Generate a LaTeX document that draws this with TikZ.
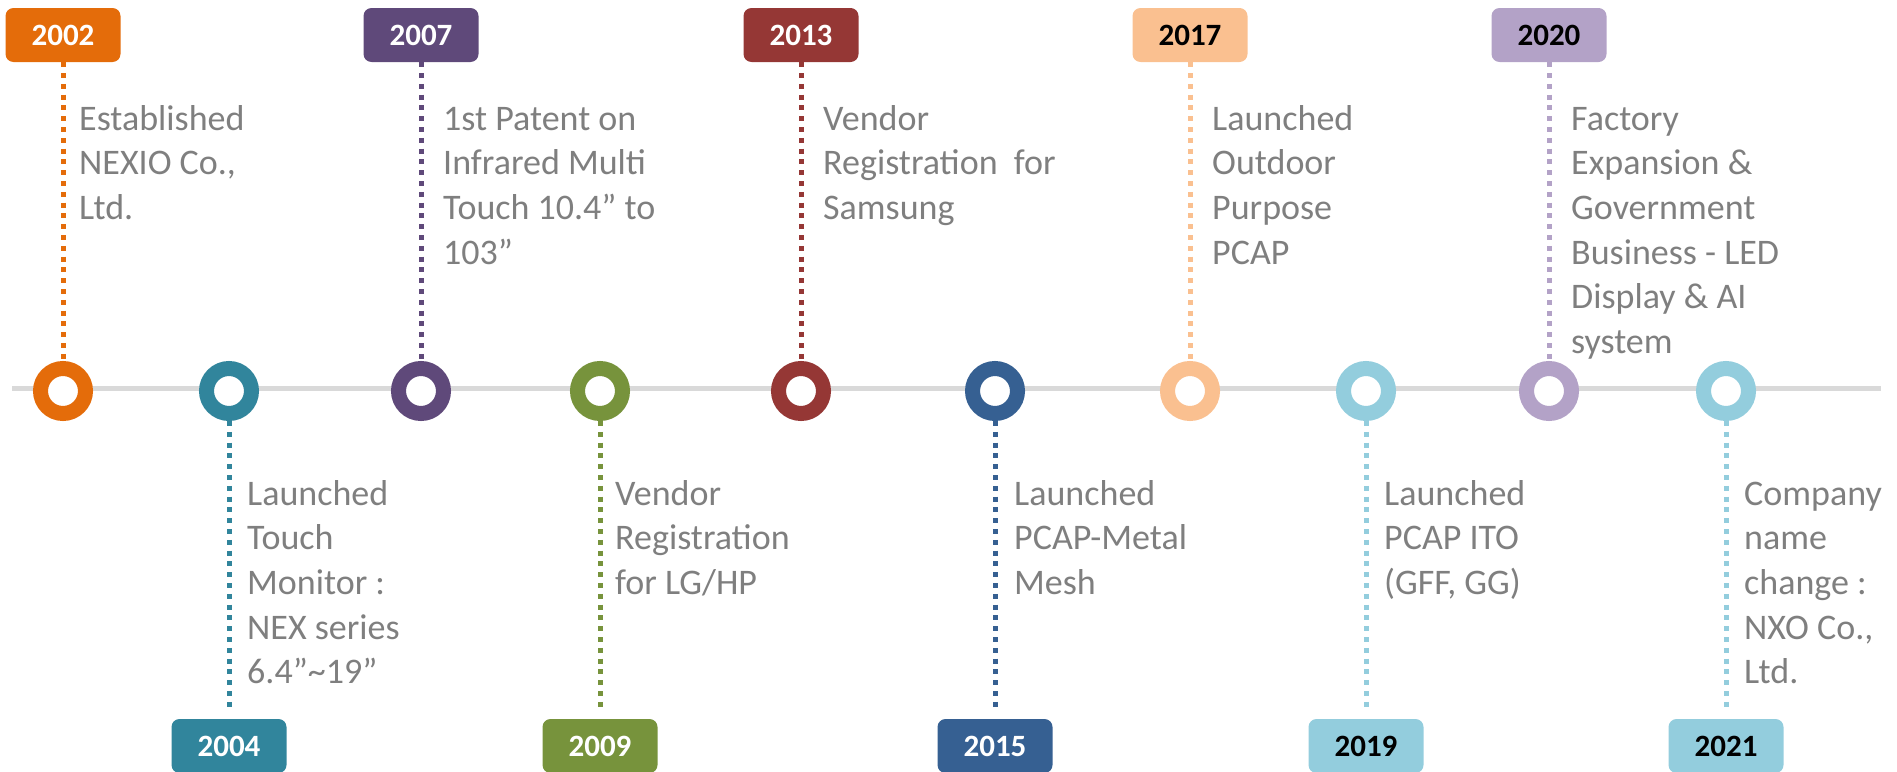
\documentclass[tikz,border=0pt]{standalone}
\usepackage{fontspec}
\setmainfont{Carlito}
\definecolor{cA}{HTML}{E46C0A}
\definecolor{cB}{HTML}{31859C}
\definecolor{cC}{HTML}{5F497A}
\definecolor{cD}{HTML}{77933C}
\definecolor{cE}{HTML}{953735}
\definecolor{cF}{HTML}{366092}
\definecolor{cG}{HTML}{FAC090}
\definecolor{cH}{HTML}{93CDDD}
\definecolor{cI}{HTML}{B3A2C7}
\definecolor{lineg}{HTML}{D9D9D9}
\definecolor{textg}{HTML}{7F7F7F}
\begin{document}
\begin{tikzpicture}[x=1pt,y=-1pt,
  yearbox/.style={fill=#1, rounded corners=8pt, minimum width=115pt, minimum height=54pt,
    inner sep=0pt, font=\fontsize{31}{36}\selectfont\bfseries, text height=20pt, text depth=0pt},
  ring/.style={circle, draw=#1, line width=15pt, fill=white, minimum size=45pt, inner sep=0pt},
  dotline/.style={draw=#1, line width=5pt, dash pattern=on 5pt off 5.8pt},
  desc/.style={anchor=north west, inner sep=0pt, align=left, text=textg,
    font=\fontsize{36}{44.6}\selectfont}]
\useasboundingbox (0,0) rectangle (1897,771);
% timeline
\coordinate (tl) at (12,388);
\coordinate (tr) at (1881,388);
\draw[lineg, line width=5pt] (tl) -- (tr);
% rings
\node[ring=cA] (r2002) at (63,391) {};
\node[ring=cB] (r2004) at (229,391) {};
\node[ring=cC] (r2007) at (421,391) {};
\node[ring=cD] (r2009) at (600,391) {};
\node[ring=cE] (r2013) at (801,391) {};
\node[ring=cF] (r2015) at (995,391) {};
\node[ring=cG] (r2017) at (1190,391) {};
\node[ring=cH] (r2019) at (1366,391) {};
\node[ring=cI] (r2020) at (1549,391) {};
\node[ring=cH] (r2021) at (1726,391) {};
% year boxes
\node[yearbox=cA, text=white] (b2002) at (63,35) {2002};
\node[yearbox=cC, text=white] (b2007) at (421,35) {2007};
\node[yearbox=cE, text=white] (b2013) at (801,35) {2013};
\node[yearbox=cG, text=black] (b2017) at (1190,35) {2017};
\node[yearbox=cI, text=black] (b2020) at (1549,35) {2020};
\node[yearbox=cB, text=white] (b2004) at (229,746) {2004};
\node[yearbox=cD, text=white] (b2009) at (600,746) {2009};
\node[yearbox=cF, text=white] (b2015) at (995,746) {2015};
\node[yearbox=cH, text=black] (b2019) at (1366,746) {2019};
\node[yearbox=cH, text=black] (b2021) at (1726,746) {2021};
% connectors
\draw[dotline=cA] (b2002.south) -- (r2002.north);
\draw[dotline=cC] (b2007.south) -- (r2007.north);
\draw[dotline=cE] (b2013.south) -- (r2013.north);
\draw[dotline=cG] (b2017.south) -- (r2017.north);
\draw[dotline=cI] (b2020.south) -- (r2020.north);
\draw[dotline=cB, shorten >=10pt] (r2004.south) -- (b2004.north);
\draw[dotline=cD, shorten >=10pt] (r2009.south) -- (b2009.north);
\draw[dotline=cF, shorten >=10pt] (r2015.south) -- (b2015.north);
\draw[dotline=cH, shorten >=10pt] (r2019.south) -- (b2019.north);
\draw[dotline=cH, shorten >=10pt] (r2021.south) -- (b2021.north);
% descriptions (top)
\node[desc] (t2002) at (79,98.8) {\strut Established\\NEXIO Co.,\\Ltd.};
\node[desc] (t2007) at (443,98.8) {\strut 1st Patent on\\Infrared Multi\\Touch 10.4” to\\103”};
\node[desc] (t2013) at (823,98.8) {\strut Vendor\\Registration\ \ for\\Samsung};
\node[desc] (t2017) at (1212,98.8) {\strut Launched\\Outdoor\\Purpose\\PCAP};
\node[desc] (t2020) at (1571,98.8) {\strut Factory\\Expansion \&\\Government\\Business - LED\\Display \& AI\\system};
% descriptions (bottom)
\node[desc] (t2004) at (247,473.8) {\strut Launched\\Touch\\Monitor :\\NEX series\\6.4”\char`~19”};
\node[desc] (t2009) at (615,473.8) {\strut Vendor\\Registration\\for LG/HP};
\node[desc] (t2015) at (1014,473.8) {\strut Launched\\PCAP-Metal\\Mesh};
\node[desc] (t2019) at (1384,473.8) {\strut Launched\\PCAP ITO\\(GFF, GG)};
\node[desc] (t2021) at (1744,473.8) {\strut Company\\name\\change :\\NXO Co.,\\Ltd.};
\end{tikzpicture}
\end{document}
